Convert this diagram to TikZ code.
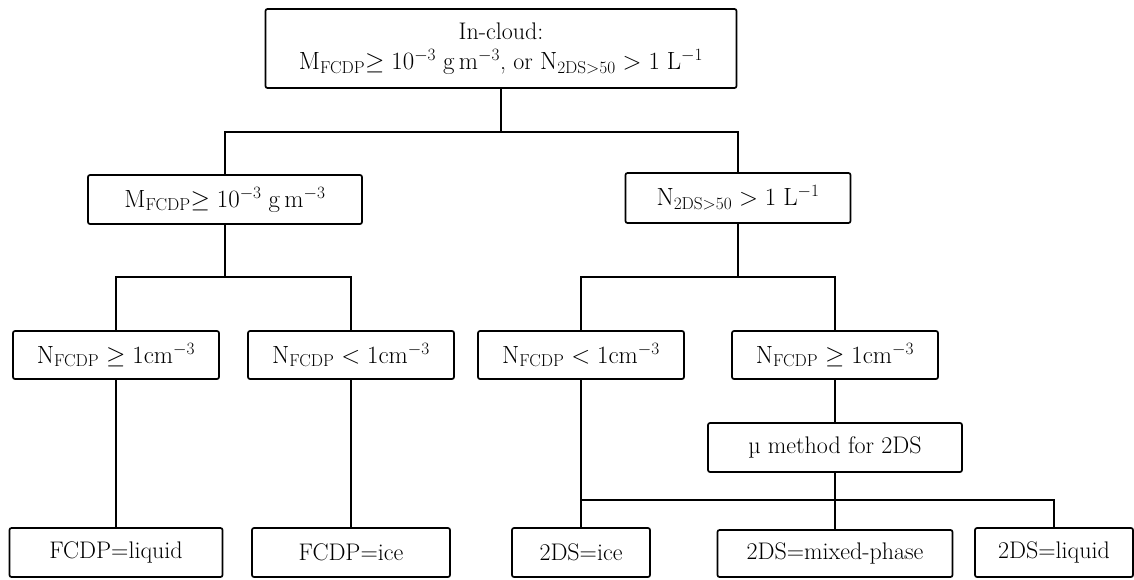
\documentclass[tikz,border=0pt]{standalone}
\usepackage{amsmath}
\usepackage{amssymb}
\usepackage{tikz}

\newcommand{\sub}[2]{\mathrm{#1}_{\mathrm{#2}}}

\begin{document}
\begin{tikzpicture}[
          x=1pt, y=-1pt,
          box/.style={draw, line width=1.7pt, rounded corners=2pt, inner sep=0pt,
                      minimum height=49pt, align=center,
                      font=\fontsize{24}{30}\selectfont},
          link/.style={line width=1.7pt}
        ]
        \useasboundingbox (0,0) rectangle (1134,579);

        % top and first split
        \node[box, minimum width=471pt, minimum height=79pt] (incloud) at (501,48.5)
          {In-cloud:\\ $\sub{M}{FCDP}{\geq}\;10^{-3}\;\mathrm{g\,m^{-3}}$, or $\sub{N}{2DS>50} > 1\;\mathrm{L^{-1}}$};
        \node[box, minimum width=274pt] (mfcdp) at (225,199.5)
          {$\sub{M}{FCDP}{\geq}\;10^{-3}\;\mathrm{g\,m^{-3}}$};
        \node[box, minimum width=225pt, minimum height=50pt] (ntwods) at (738,198)
          {$\sub{N}{2DS>50} > 1\;\mathrm{L^{-1}}$};

        % number concentration tests
        \node[box, minimum width=206pt, minimum height=48pt] (ngeleft) at (116,355)
          {$\sub{N}{FCDP} \geq 1\mathrm{cm^{-3}}$};
        \node[box, minimum width=206pt, minimum height=48pt] (nltleft) at (351,355)
          {$\sub{N}{FCDP} < 1\mathrm{cm^{-3}}$};
        \node[box, minimum width=206pt, minimum height=48pt] (nltright) at (581,355)
          {$\sub{N}{FCDP} < 1\mathrm{cm^{-3}}$};
        \node[box, minimum width=206pt, minimum height=48pt] (ngeright) at (835,355)
          {$\sub{N}{FCDP} \geq 1\mathrm{cm^{-3}}$};
        \node[box, minimum width=254pt] (mu) at (835,447.5) {µ method for 2DS};

        % phases
        \node[box, minimum width=213pt] (fliquid) at (116,552.5) {FCDP=liquid};
        \node[box, minimum width=198pt] (fice) at (351,552.5) {FCDP=ice};
        \node[box, minimum width=138pt] (tice) at (581,552.5) {2DS=ice};
        \node[box, minimum width=235pt, minimum height=47pt] (tmixed) at (835,553.5) {2DS=mixed-phase};
        \node[box, minimum width=158pt] (tliquid) at (1054,552.5) {2DS=liquid};

        \coordinate (split1) at (501,132);
        \coordinate (split2) at (225,277);
        \coordinate (split3) at (738,277);
        \coordinate (split4) at (835,500);

        \draw[link] (incloud.south) -- (split1);
        \draw[link] (mfcdp.north) |- (split1) -| (ntwods.north);
        \draw[link] (mfcdp.south) -- (split2);
        \draw[link] (ngeleft.north) |- (split2) -| (nltleft.north);
        \draw[link] (ntwods.south) -- (split3);
        \draw[link] (nltright.north) |- (split3) -| (ngeright.north);
        \draw[link] (ngeleft.south) -- (fliquid.north);
        \draw[link] (nltleft.south) -- (fice.north);
        \draw[link] (ngeright.south) -- (mu.north);
        \draw[link] (nltright.south) -- (tice.north);
        \draw[link] (mu.south) -- (tmixed.north);
        \draw[link] (nltright.south |- split4) -- (split4) -| (tliquid.north);
        \end{tikzpicture}
\end{document}
